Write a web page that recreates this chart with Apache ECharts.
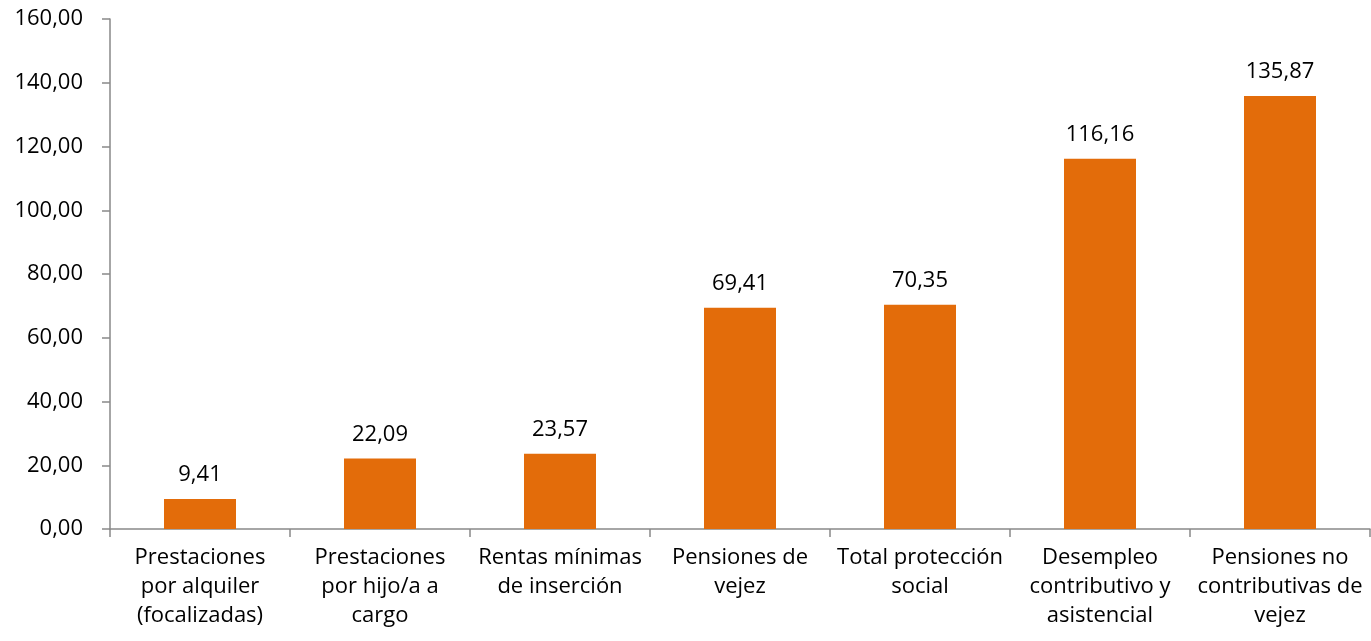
<!DOCTYPE html>
<html>
<head>
<meta charset="utf-8">
<script src="https://cdn.jsdelivr.net/npm/echarts@6/dist/echarts.min.js"></script>
<style>
  html, body { margin: 0; padding: 0; background: #fff; }
  #chart { width: 1371px; height: 641px; }
</style>
</head>
<body>
<div id="chart"></div>
<script>
// categorías y valores
const categorias = [
  'Prestaciones\npor alquiler\n(focalizadas)',
  'Prestaciones\npor hijo/a a\ncargo',
  'Rentas mínimas\nde inserción',
  'Pensiones de\nvejez',
  'Total protección\nsocial',
  'Desempleo\ncontributivo y\nasistencial',
  'Pensiones no\ncontributivas de\nvejez'
];
const valores = [9.41, 22.09, 23.57, 69.41, 70.35, 116.16, 135.87];

const fmt = v => v.toFixed(2).replace('.', ',');
const fuente = '"Open Sans", sans-serif';

let myChart = echarts.init(document.getElementById('chart'));
let option = {
  animation: false,
  grid: { left: 110, right: 1, top: 19, bottom: 112 },
  xAxis: {
    type: 'category',
    data: categorias,
    axisLine: { lineStyle: { color: '#898989', width: 1.5 } },
    axisTick: { show: true, length: 8, lineStyle: { color: '#898989', width: 1.5 } },
    axisLabel: {
      color: '#000',
      fontSize: 22,
      fontFamily: fuente,
      lineHeight: 29,
      margin: 14,
      interval: 0
    }
  },
  yAxis: {
    type: 'value',
    min: 0,
    max: 160,
    interval: 20,
    axisLine: { show: true, lineStyle: { color: '#898989', width: 1.5 } },
    axisTick: { show: true, length: 8, lineStyle: { color: '#898989', width: 1.5 } },
    splitLine: { show: false },
    axisLabel: {
      color: '#000',
      fontSize: 22,
      fontFamily: fuente,
      margin: 27,
      formatter: v => fmt(v)
    }
  },
  series: [
    {
      type: 'bar',
      data: valores,
      barWidth: 72,
      itemStyle: { color: '#E36C0A' },
      label: {
        show: true,
        position: 'top',
        distance: 13,
        color: '#000',
        fontSize: 22,
        fontFamily: fuente,
        formatter: p => fmt(p.value)
      }
    }
  ]
};
myChart.setOption(option);
</script>
</body>
</html>
